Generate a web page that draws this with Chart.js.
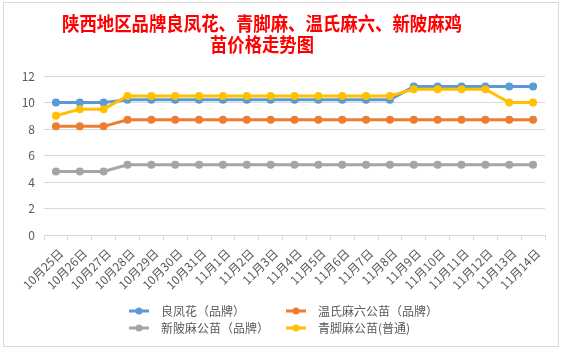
<!DOCTYPE html>
<html>
<head>
<meta charset="utf-8">
<script src="https://cdn.jsdelivr.net/npm/chart.js@4/dist/chart.umd.min.js"></script>
<style>
    body { margin: 0; background: #ffffff; }
    #frame {
        position: absolute;
        left: 3px;
        top: 2px;
        width: 556px;
        height: 345px;
        border: 1px solid #d9d9d9;
        box-sizing: border-box;
    }
    #wrap { position: absolute; left: 0; top: 0; width: 563px; height: 351px; }
</style>
</head>
<body>
<div id="frame"></div>
<div id="wrap"><canvas id="myChart" width="563" height="351"></canvas></div>
<script>
const titleLines = ['陕西地区品牌良凤花、青脚麻、温氏麻六、新陂麻鸡', '苗价格走势图'];

const categories = [
    '10月25日', '10月26日', '10月27日', '10月28日', '10月29日', '10月30日', '10月31日',
    '11月1日', '11月2日', '11月3日', '11月4日', '11月5日', '11月6日', '11月7日',
    '11月8日', '11月9日', '11月10日', '11月11日', '11月12日', '11月13日', '11月14日',
];

const seriesNames = ['良凤花（品牌）', '温氏麻六公苗（品牌）', '新陂麻公苗（品牌）', '青脚麻公苗(普通)'];

const liangfenghua = [10, 10, 10, 10.2, 10.2, 10.2, 10.2, 10.2, 10.2, 10.2, 10.2, 10.2, 10.2, 10.2, 10.2, 11.2, 11.2, 11.2, 11.2, 11.2, 11.2];
const wenshi = [8.2, 8.2, 8.2, 8.7, 8.7, 8.7, 8.7, 8.7, 8.7, 8.7, 8.7, 8.7, 8.7, 8.7, 8.7, 8.7, 8.7, 8.7, 8.7, 8.7, 8.7];
const xinpi = [4.8, 4.8, 4.8, 5.3, 5.3, 5.3, 5.3, 5.3, 5.3, 5.3, 5.3, 5.3, 5.3, 5.3, 5.3, 5.3, 5.3, 5.3, 5.3, 5.3, 5.3];
const qingjiao = [9.0, 9.5, 9.5, 10.5, 10.5, 10.5, 10.5, 10.5, 10.5, 10.5, 10.5, 10.5, 10.5, 10.5, 10.5, 11.0, 11.0, 11.0, 11.0, 10.0, 10.0];

const yTicks = [0, 2, 4, 6, 8, 10, 12];

const colours = ['#5B9BD5', '#ED7D31', '#A5A5A5', '#FFC000'];
const cjk = '"Noto Sans CJK SC", "Noto Sans", sans-serif';

const makeSeries = (i, values, order) => ({
    label: seriesNames[i],
    data: values,
    borderColor: colours[i],
    backgroundColor: colours[i],
    pointBackgroundColor: colours[i],
    pointBorderColor: colours[i],
    borderWidth: 3,
    pointRadius: 4,
    pointBorderWidth: 0,
    tension: 0,
    fill: false,
    order: order,
});

// title and two-column legend drawn by hand, like the spreadsheet one
const chromePlugin = {
    id: 'chrome',
    afterDraw(chart) {
        const ctx = chart.ctx;
        ctx.save();
        ctx.fillStyle = '#FF0000';
        ctx.font = 'bold 19px ' + cjk;
        ctx.textAlign = 'center';
        ctx.textBaseline = 'middle';
        ctx.fillText(titleLines[0], 262, 24, 400);
        ctx.fillText(titleLines[1], 262, 45, 104);

        const spots = [[129, 311], [286, 311], [129, 328], [286, 328]];
        ctx.font = '12px ' + cjk;
        ctx.textAlign = 'left';
        chart.data.datasets.forEach((ds, i) => {
            const [x, y] = spots[i];
            ctx.strokeStyle = ds.borderColor;
            ctx.lineWidth = 3;
            ctx.beginPath();
            ctx.moveTo(x, y);
            ctx.lineTo(x + 20, y);
            ctx.stroke();
            ctx.fillStyle = ds.borderColor;
            ctx.beginPath();
            ctx.arc(x + 10, y, 3.5, 0, Math.PI * 2);
            ctx.fill();
            ctx.fillStyle = '#595959';
            ctx.fillText(ds.label, x + 32, y);
        });
        ctx.restore();
    },
};

const ctx = document.getElementById('myChart').getContext('2d');

new Chart(ctx, {
    type: 'line',
    data: {
        labels: categories,
        datasets: [
            makeSeries(0, liangfenghua, 3),
            makeSeries(1, wenshi, 2),
            makeSeries(2, xinpi, 1),
            makeSeries(3, qingjiao, 0),
        ],
    },
    options: {
        responsive: false,
        animation: false,
        layout: {
            padding: { left: 0, right: 18, top: 76, bottom: 56 },
        },
        plugins: {
            legend: { display: false },
            title: { display: false },
            tooltip: { enabled: false },
        },
        scales: {
            x: {
                offset: true,
                afterFit: (s) => { s.height = 60; },
                grid: {
                    offset: true,
                    drawOnChartArea: false,
                    drawTicks: true,
                    tickLength: 5,
                    color: '#d9d9d9',
                },
                border: { display: true, color: '#d9d9d9', width: 1 },
                ticks: {
                    autoSkip: false,
                    maxRotation: 45,
                    minRotation: 45,
                    padding: 6,
                    labelOffset: 5,
                    color: '#595959',
                    font: { family: cjk, size: 12 },
                },
            },
            y: {
                min: 0,
                max: 12,
                afterFit: (s) => { s.width = 44; },
                afterBuildTicks: (s) => { s.ticks = yTicks.map((v) => ({ value: v })); },
                grid: { color: '#d9d9d9', drawTicks: false },
                border: { display: false },
                ticks: {
                    padding: 9,
                    color: '#595959',
                    font: { family: cjk, size: 12 },
                },
            },
        },
    },
    plugins: [chromePlugin],
});
</script>
</body>
</html>
